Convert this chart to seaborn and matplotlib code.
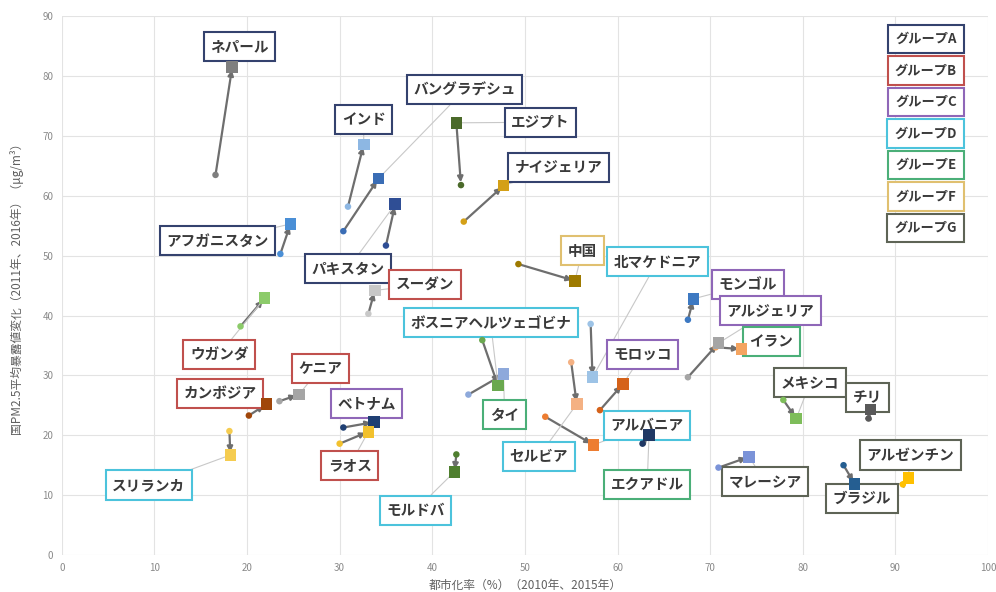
import numpy as np
import pandas as pd
import matplotlib
matplotlib.use('Agg')
import matplotlib.pyplot as plt
import seaborn as sns

# Country data: urbanisation (2010 -> 2015), PM2.5 (2011 -> 2016)
countries = ['ネパール', 'アフガニスタン', 'インド', 'バングラデシュ', 'パキスタン', 'エジプト',
             'ナイジェリア', '中国', 'スーダン', 'ウガンダ', 'カンボジア', 'ケニア', 'スリランカ',
             'ベトナム', 'ラオス', 'ボスニアヘルツェゴビナ', 'タイ', 'モルドバ', '北マケドニア',
             'セルビア', 'アルバニア', 'モロッコ', 'エクアドル', 'モンゴル', 'アルジェリア', 'イラン',
             'メキシコ', 'チリ', 'マレーシア', 'ブラジル', 'アルゼンチン']
groups = ['A', 'A', 'A', 'A', 'A', 'A',
          'A', 'F', 'B', 'B', 'B', 'B', 'D',
          'C', 'B', 'D', 'E', 'D', 'D',
          'D', 'D', 'C', 'E', 'C', 'C', 'E',
          'G', 'G', 'G', 'G', 'G']
urban_2010 = [16.6, 23.6, 30.9, 30.4, 35.0, 43.1, 43.4, 49.3, 33.1, 19.3, 20.2, 23.5, 18.1,
              30.4, 30.0, 45.4, 43.9, 42.6, 57.1, 55.0, 52.2, 58.1, 62.7, 67.6, 67.6, 70.6,
              77.9, 87.1, 70.9, 84.4, 90.8]
urban_2015 = [18.4, 24.7, 32.6, 34.2, 36.0, 42.6, 47.7, 55.4, 33.8, 21.9, 22.1, 25.6, 18.2,
              33.7, 33.1, 47.1, 47.7, 42.4, 57.3, 55.6, 57.4, 60.6, 63.4, 68.2, 70.9, 73.4,
              79.3, 87.3, 74.2, 85.6, 91.4]
pm_2011 = [63.5, 50.3, 58.2, 54.1, 51.7, 61.8, 55.7, 48.6, 40.3, 38.2, 23.3, 25.7, 20.7,
           21.3, 18.6, 35.9, 26.8, 16.8, 38.6, 32.2, 23.1, 24.2, 18.6, 39.3, 29.7, 34.7,
           25.9, 22.8, 14.6, 15.0, 11.8]
pm_2016 = [81.5, 55.3, 68.6, 62.9, 58.6, 72.2, 61.7, 45.8, 44.2, 42.9, 25.2, 26.8, 16.7,
           22.2, 20.6, 28.3, 30.2, 13.9, 29.7, 25.2, 18.4, 28.6, 20.0, 42.8, 35.4, 34.4,
           22.8, 24.3, 16.4, 11.9, 12.9]
label_x = [19.2, 16.8, 32.6, 43.5, 30.9, 51.7, 53.6, 56.2, 39.2, 17.0, 17.1, 27.9, 9.4,
           32.9, 31.1, 46.3, 47.8, 38.2, 64.3, 51.5, 63.2, 62.7, 63.2, 74.1, 76.5, 76.6,
           80.8, 87.0, 75.9, 86.4, 91.6]
label_y = [85.0, 52.5, 72.8, 77.7, 47.8, 72.3, 64.8, 50.8, 45.2, 33.5, 27.0, 31.2, 11.7,
           25.3, 15.0, 38.8, 23.5, 7.5, 49.0, 16.5, 21.7, 33.5, 11.8, 45.2, 40.8, 35.7,
           28.8, 26.3, 12.3, 9.5, 16.7]
marker_colors = ['#7F7F7F', '#4A8FD6', '#8DB7E3', '#3A6DB5', '#2F4E95', '#4B6A2A',
                 '#D4A017', '#9E7A00', '#C8C8C8', '#8CCB6A', '#A0460A', '#A5A5A5', '#F5CC50',
                 '#1F3F73', '#F2C12E', '#6AA84F', '#8EA9DB', '#4F7F2F', '#9DC3E6',
                 '#F4B183', '#ED7D31', '#D5621A', '#1F3864', '#3D79C2', '#A5A5A5', '#F4A460',
                 '#7EBD5A', '#595959', '#7B93D8', '#255E91', '#FFC000']
# in the original this arrow points from the 2016 square back to the 2011 point
reversed_arrows = ['エジプト']

group_names = ['A', 'B', 'C', 'D', 'E', 'F', 'G']
group_colors = ['#34426E', '#C0504D', '#8F67B8', '#4CC3DC', '#4BAF78', '#E0C070', '#5E6456']

df = pd.DataFrame({'country': countries, 'group': groups,
                   'x0': urban_2010, 'x1': urban_2015, 'y0': pm_2011, 'y1': pm_2016,
                   'lx': label_x, 'ly': label_y})
palette = dict(zip(countries, marker_colors))
gcolor = dict(zip(group_names, group_colors))

sns.set_theme(style='whitegrid')
plt.rcParams['font.family'] = ['Noto Sans CJK JP', 'DejaVu Sans']

fig = plt.figure(figsize=(9.96, 5.92), dpi=100)
ax = fig.add_axes([0.062, 0.0625, 0.93, 0.91])

sns.scatterplot(data=df, x='x0', y='y0', hue='country', palette=palette, marker='o',
                s=22, edgecolor='none', legend=False, ax=ax, zorder=5)
sns.scatterplot(data=df, x='x1', y='y1', hue='country', palette=palette, marker='s',
                s=70, edgecolor='none', legend=False, ax=ax, zorder=5)

for _, r in df.iterrows():
    start, end = (r.x0, r.y0), (r.x1, r.y1)
    if r.country in reversed_arrows:
        start, end = end, start
    ax.annotate('', xy=end, xytext=start,
                arrowprops=dict(arrowstyle='-|>', color='#6E6E6E', lw=1.6,
                                mutation_scale=8, shrinkA=0, shrinkB=2), zorder=2)
    ax.annotate(r.country, xy=(r.x1, r.y1), xytext=(r.lx, r.ly), ha='center', va='center',
                fontsize=10.5, fontweight='bold', color='#3A3A3A',
                bbox=dict(boxstyle='square,pad=0.45', fc='white', ec=gcolor[r.group], lw=1.5),
                arrowprops=dict(arrowstyle='-', color='#C8C8C8', lw=0.8, shrinkA=0, shrinkB=3),
                zorder=4)

# group legend boxes
for i, (g, c) in enumerate(zip(group_names, group_colors)):
    ax.text(0.933, 0.958 - i * 0.0585, f'グループ{g}', transform=ax.transAxes,
            ha='center', va='center', fontsize=9.5, fontweight='bold', color='#3A3A3A',
            bbox=dict(boxstyle='square,pad=0.55', fc='white', ec=c, lw=1.5), zorder=6)

ax.set_xlim(0, 100)
ax.set_ylim(0, 90)
ax.set_xticks(range(0, 101, 10))
ax.set_yticks(range(0, 91, 10))
ax.grid(color='#E3E3E3', lw=0.8)
for s in ax.spines.values():
    s.set_visible(False)
ax.tick_params(labelsize=7, colors='#8A8A8A', length=0, pad=6)
ax.set_xlabel('都市化率（%）（2010年、2015年）', fontsize=8.5, color='#606060', labelpad=4)
ax.set_ylabel('国PM2.5平均暴露値変化（2011年、2016年）（μg/m³）', fontsize=8.5,
              color='#606060', labelpad=14)

fig.savefig('out.png', dpi=100)
